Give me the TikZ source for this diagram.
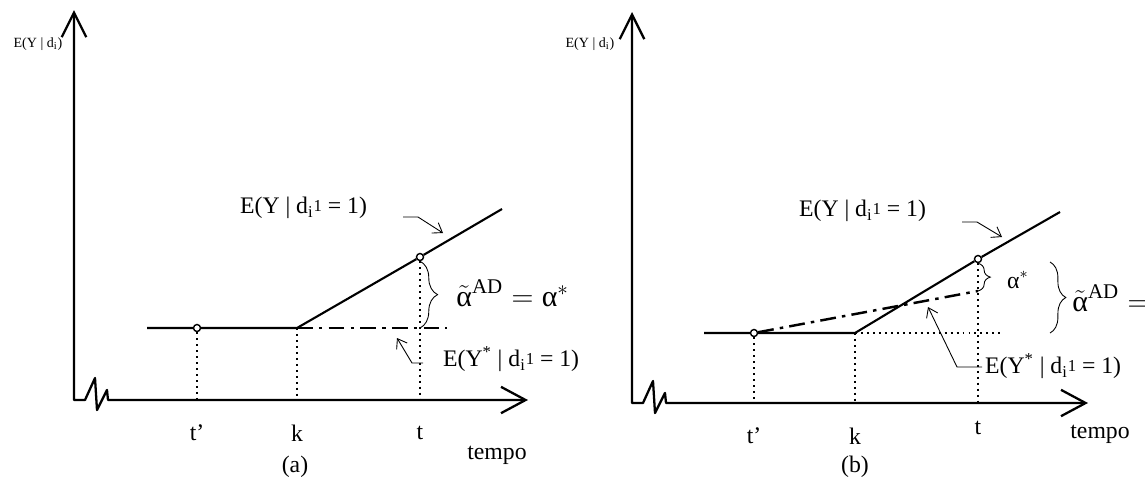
\documentclass[tikz,border=0pt]{standalone}
\usepackage{fontspec}
\setmainfont{Liberation Serif}
\usepackage{amsmath}
\usetikzlibrary{arrows.meta}
\usetikzlibrary{decorations.pathreplacing}

% d_i with the low superscript 1 of the reference
\newcommand{\dione}{d\textsubscript{i}\raisebox{0.2ex}{\fontsize{9.5}{10}\selectfont 1}}

\begin{document}
\begin{tikzpicture}[
      x=0.02cm, y=-0.02cm,
      axis/.style={line width=1.3pt, line join=round,
        {Straight Barb[length=14pt,width=14pt]}-{Straight Barb[length=14pt,width=15pt]}},
      curve/.style={line width=1.2pt},
      dashdot/.style={line width=1.4pt, dash pattern=on 9pt off 3.5pt on 2pt off 3.5pt},
      guide/.style={line width=1.2pt, dash pattern=on 1.1pt off 2.3pt},
      pnt/.style={circle, draw, fill=white, line width=0.8pt, inner sep=0pt, minimum size=4pt},
      ptr/.style={line width=0.5pt, -{Straight Barb[length=5pt,width=7pt]}},
      brc/.style={line width=0.5pt, decorate, decoration={brace, amplitude=#1}},
      lab/.style={font=\fontsize{13.5}{15}\selectfont, inner sep=1pt},
      ylab/.style={font=\fontsize{8}{9}\selectfont, inner sep=1pt},
      big/.style={font=\fontsize{17}{19}\selectfont, inner sep=0pt}]
      \useasboundingbox (0,0) rectangle (1145,491);
      % ---------- panel (a) ----------
      \coordinate (aY) at (74,10);
      \coordinate (aO) at (74,400);
      \coordinate (aX) at (528,400);
      \coordinate (aS) at (147,328);
      \node[pnt] (aP) at (197,328) {};
      \coordinate (aK) at (297,328);
      \node[pnt] (aT) at (420,257) {};
      \coordinate (aE) at (502,209);
      \coordinate (aD) at (447,328);
      \coordinate (aB) at (420,328);
      \draw[axis] (aY) -- (aO) -- ++(11,0) -- ++(10,-22) -- ++(2,32) -- ++(10,-20)
        -- ++(1,10) -- (aX);
      \draw[curve] (aS) -- (aP) -- (aK) -- (aT) -- (aE);
      \draw[dashdot] (aK) -- (aD);
      \draw[guide] (aP) -- (aP |- aO);
      \draw[guide] (aK) -- (aK |- aO);
      \draw[guide] (aT) -- (aT |- aO);
      \draw[brc=10pt] (aT) -- (aB);
      \node[ylab] (aYl) at (38,44) {E(Y | d\textsubscript{i})};
      \node[lab, anchor=west] (aL1) at (238,208) {E(Y | \dione{} = 1)};
      \node[lab, anchor=west] (aL2) at (441,359)
        {E(Y\textsuperscript{*} | \dione{} = 1)};
      \node[big, anchor=west] (aA) at (456,293)
        {$\tilde{\text{α}}^{\text{AD}} = \text{α}^{*}$};
      \coordinate (aq1) at (403,217);
      \coordinate (aq2) at (418,217);
      \coordinate (aq3) at (443,233);
      \draw[ptr] (aq1) -- (aq2) -- (aq3);
      \coordinate (ar1) at (423,363);
      \coordinate (ar2) at (412,363);
      \coordinate (ar3) at (397,338);
      \draw[ptr] (ar1) -- (ar2) -- (ar3);
      \node[lab] (at1) at (197,433) {t'};
      \node[lab] (ak) at (297,433) {k};
      \node[lab] (at) at (420,433) {t};
      \node[lab] (atp) at (497,455) {tempo};
      \node[lab] (acap) at (295,467) {(a)};
      % ---------- panel (b) ----------
      \coordinate (bY) at (632,12);
      \coordinate (bO) at (632,403);
      \coordinate (bX) at (1088,403);
      \coordinate (bS) at (704,333);
      \node[pnt] (bP) at (754,333) {};
      \coordinate (bK) at (855,333);
      \node[pnt] (bT) at (978,259) {};
      \coordinate (bE) at (1060,212);
      \coordinate (bD) at (978,291);
      \coordinate (bH) at (1003,333);
      \draw[axis] (bY) -- (bO) -- ++(11,0) -- ++(10,-22) -- ++(2,32) -- ++(10,-20)
        -- ++(1,10) -- (bX);
      \draw[curve] (bS) -- (bP) -- (bK) -- (bT) -- (bE);
      \draw[dashdot] (bP) -- (bD);
      \draw[guide] (bK) -- (bH);
      \draw[guide] (bP) -- (bP |- bO);
      \draw[guide] (bK) -- (bK |- bO);
      \draw[guide] (bT) -- (bT |- bO);
      \draw[brc=7pt] (bT) -- (bD);
      \coordinate (bG1) at (1050,262);
      \coordinate (bG2) at (1050,333);
      \draw[brc=9pt] (bG1) -- (bG2);
      \node[ylab] (bYl) at (590,44) {E(Y | d\textsubscript{i})};
      \node[lab, anchor=west] (bL1) at (797,211) {E(Y | \dione{} = 1)};
      \node[lab, anchor=west] (bL2) at (983,366)
        {E(Y\textsuperscript{*} | \dione{} = 1)};
      \node[lab, anchor=west] (bA1) at (1005,280) {$\text{α}^{*}$};
      \node[big, anchor=west] (bA2) at (1072,298) {$\tilde{\text{α}}^{\text{AD}} =$};
      \coordinate (bq1) at (962,222);
      \coordinate (bq2) at (977,222);
      \coordinate (bq3) at (1002,237);
      \draw[ptr] (bq1) -- (bq2) -- (bq3);
      \coordinate (br1) at (982,367);
      \coordinate (br2) at (957,367);
      \coordinate (br3) at (928,307);
      \draw[ptr] (br1) -- (br2) -- (br3);
      \node[lab] (bt1) at (754,436) {t'};
      \node[lab] (bk) at (855,436) {k};
      \node[lab] (bt) at (978,428) {t};
      \node[lab] (btp) at (1100,434) {tempo};
      \node[lab] (bcap) at (855,467) {(b)};
    \end{tikzpicture}
\end{document}
